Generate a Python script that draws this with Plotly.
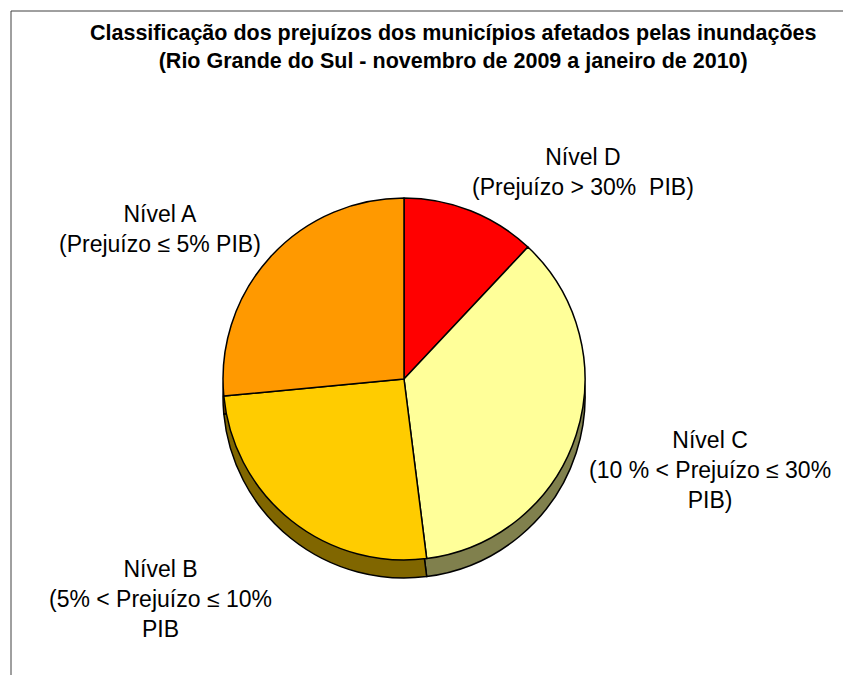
import plotly.graph_objects as go

# Data (clockwise from 12 o'clock)
categories = ["Nível D", "Nível C", "Nível B", "Nível A"]
descriptions = ["(Prejuízo > 30%  PIB)", "(10 % < Prejuízo ≤ 30%<br>PIB)",
                "(5% < Prejuízo ≤ 10%<br>PIB", "(Prejuízo ≤ 5% PIB)"]
values = [12.0, 36.0, 25.5, 26.5]
colors = ["#FF0000", "#FFFF99", "#FFCC00", "#FF9900"]
side_colors = ["#800000", "#80804D", "#806600", "#804D00"]

W, H = 843, 675
cx, cy, r, depth = 404, 379, 181, 18

def px_x(x):
    return x / W

def px_y(y):
    return 1 - y / H

fig = go.Figure()
# 3D side (shadow) pie
fig.add_trace(go.Pie(
    labels=categories, values=values, sort=False, direction="clockwise", rotation=0,
    marker=dict(colors=side_colors, line=dict(color="black", width=1.5)),
    textinfo="none", hoverinfo="skip", showlegend=False,
    domain=dict(x=[px_x(cx - r), px_x(cx + r)], y=[px_y(cy + r + depth), px_y(cy - r + depth)]),
))
# top face
fig.add_trace(go.Pie(
    labels=categories, values=values, sort=False, direction="clockwise", rotation=0,
    marker=dict(colors=colors, line=dict(color="black", width=1.5)),
    textinfo="none", hoverinfo="label+value", showlegend=False,
    domain=dict(x=[px_x(cx - r), px_x(cx + r)], y=[px_y(cy + r), px_y(cy - r)]),
))

label_pos = [(583, 172), (710, 470), (160, 599), (160, 229)]
for cat, desc, (lx, ly) in zip(categories, descriptions, label_pos):
    fig.add_annotation(
        x=px_x(lx), y=px_y(ly), xref="paper", yref="paper",
        text=cat + "<br>" + desc, showarrow=False, align="center",
        xanchor="center", yanchor="middle",
        font=dict(family="Liberation Sans, Arial, sans-serif", size=23, color="black"),
    )

fig.add_annotation(
    x=px_x(453), y=px_y(47), xref="paper", yref="paper",
    text="<b>Classificação dos prejuízos dos municípios afetados pelas inundações<br>"
         "(Rio Grande do Sul - novembro de 2009 a janeiro de 2010)</b>",
    showarrow=False, align="center", xanchor="center", yanchor="middle",
    font=dict(family="Liberation Sans, Arial, sans-serif", size=21.5, color="black"),
)

# chart frame (left and top edges)
fig.add_shape(type="line", xref="paper", yref="paper",
              x0=px_x(11), x1=px_x(11), y0=px_y(11), y1=px_y(H + 5),
              line=dict(color="#404040", width=1))
fig.add_shape(type="line", xref="paper", yref="paper",
              x0=px_x(11), x1=px_x(W + 5), y0=px_y(11), y1=px_y(11),
              line=dict(color="#404040", width=1))

fig.update_layout(
    width=W, height=H, margin=dict(l=0, r=0, t=0, b=0),
    paper_bgcolor="white", plot_bgcolor="white",
)
fig.write_html("out.html", config={"displayModeBar": False},
               post_script="document.body.style.margin='0';document.body.style.overflow='hidden';")
